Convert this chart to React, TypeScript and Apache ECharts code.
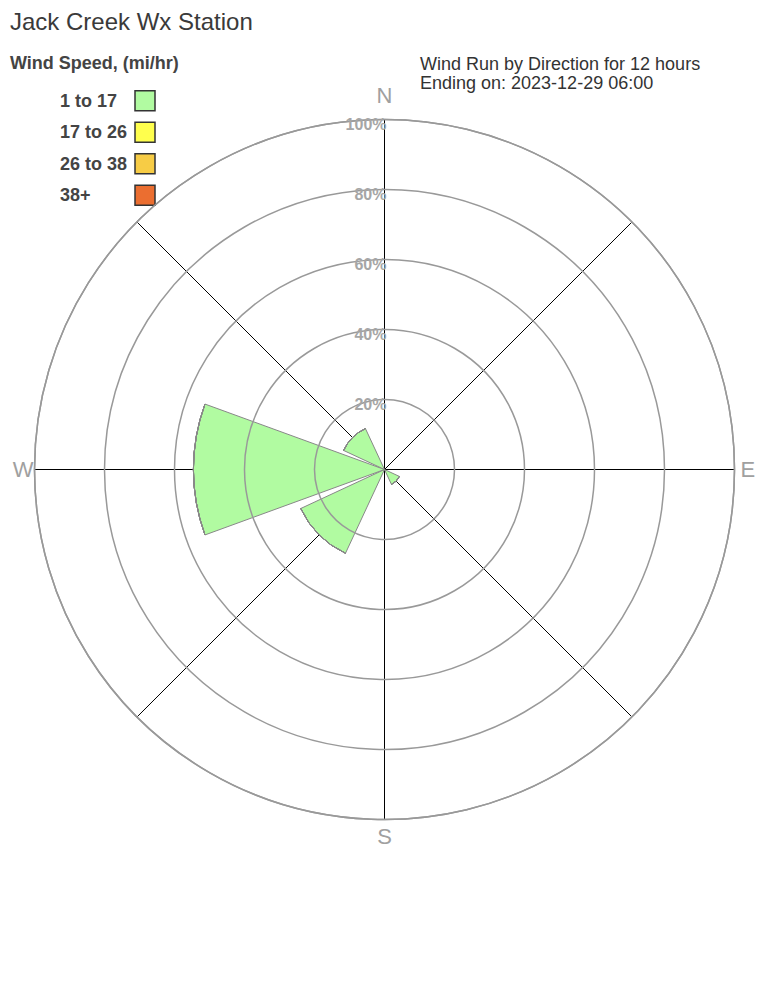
import React, { useEffect, useRef } from "react";
import * as echarts from "echarts";

const directions = ["N", "NE", "E", "SE", "S", "SW", "W", "NW"];
const speedBins = ["1 to 17", "17 to 26", "26 to 38", "38+"];
const binColors = ["#b1fba1", "#ffff4d", "#f7cc45", "#eb6e30"];
// percent of wind run per direction, per speed bin
const bin1 = [0, 0, 0, 4.7, 0, 26.4, 54.6, 12.9];
const bin2 = [0, 0, 0, 0, 0, 0, 0, 0];
const bin3 = [0, 0, 0, 0, 0, 0, 0, 0];
const bin4 = [0, 0, 0, 0, 0, 0, 0, 0];
const binValues = [bin1, bin2, bin3, bin4];
const radiusTicks = [0, 20, 40, 60, 80, 100];
const compassLabels: Record<number, string> = { 0: "n", 90: "e", 180: "s", 270: "w" };
const compassText: Record<string, string> = { n: "N", e: "E", s: "S", w: "W" };

export default function App() {
  const ref = useRef<HTMLDivElement>(null);
  useEffect(() => {
    if (!ref.current) return;
    const chart = echarts.init(ref.current, undefined, { renderer: "svg" });
    const font = "'Liberation Sans', Arial, sans-serif";
    const compassStyle = { fontSize: 22, color: "#a0a0a0", fontFamily: font };
    chart.setOption({
      animation: false,
      backgroundColor: "#ffffff",
      textStyle: { fontFamily: font },
      title: [
        {
          text: "Jack Creek Wx Station",
          left: 10,
          top: 9,
          padding: 0,
          textStyle: { fontSize: 24, fontWeight: "normal", color: "#3a3a3a", fontFamily: font },
        },
        {
          text: "Wind Speed, (mi/hr)",
          left: 10,
          top: 54,
          padding: 0,
          textStyle: { fontSize: 18, fontWeight: "bold", color: "#444", fontFamily: font },
        },
        {
          text: "Wind Run by Direction for 12 hours\nEnding on: 2023-12-29 06:00",
          left: 420,
          top: 54,
          padding: 0,
          textStyle: { fontSize: 18, fontWeight: "normal", color: "#333", lineHeight: 19, fontFamily: font },
        },
      ],
      legend: {
        orient: "vertical",
        left: 60,
        top: 90,
        padding: 0,
        align: "right",
        itemWidth: 20,
        itemHeight: 20,
        itemGap: 10,
        icon: "rect",
        data: speedBins,
        itemStyle: { borderColor: "#333", borderWidth: 1.5 },
        formatter: (name: string) => `{a|${name}}`,
        textStyle: {
          fontSize: 18,
          fontWeight: "bold",
          color: "#444",
          fontFamily: font,
          rich: {
            a: { width: 70, align: "left", fontSize: 18, fontWeight: "bold", color: "#444", fontFamily: font },
          },
        },
      },
      polar: [
        { center: [384.5, 469.5], radius: 350 },
        { center: [384.5, 469.5], radius: 350 },
      ],
      angleAxis: [
        {
          polarIndex: 0,
          type: "value",
          min: 0,
          max: 360,
          interval: 45,
          startAngle: 90,
          clockwise: true,
          axisLine: { show: true, lineStyle: { color: "#999", width: 1.5 } },
          axisTick: { show: false },
          splitLine: { show: true, lineStyle: { color: "#000", width: 1 } },
          axisLabel: {
            margin: 1,
            formatter: (v: number) => {
              const k = compassLabels[v];
              return k ? `{${k}|${compassText[k]}}` : "";
            },
            rich: {
              n: { ...compassStyle, padding: [0, 0, 12, 0] },
              e: { ...compassStyle, padding: [0, 0, 0, 5] },
              s: { ...compassStyle, padding: [5, 0, 0, 0] },
              w: { ...compassStyle, padding: [0, 0, 0, 0] },
            },
          },
        },
        {
          polarIndex: 1,
          type: "category",
          data: directions,
          startAngle: 112.5,
          clockwise: true,
          axisLine: { show: false },
          axisTick: { show: false },
          axisLabel: { show: false },
          splitLine: { show: false },
        },
      ],
      radiusAxis: [
        {
          polarIndex: 0,
          type: "value",
          min: radiusTicks[0],
          max: radiusTicks[radiusTicks.length - 1],
          interval: 20,
          axisLine: { show: false },
          axisTick: { show: false },
          splitLine: { show: true, lineStyle: { color: "#999", width: 1.5 } },
          axisLabel: {
            showMinLabel: false,
            margin: -2,
            verticalAlign: "middle",
            formatter: "{r|{value}%}",
            rich: {
              r: {
                fontSize: 16,
                fontWeight: "bold",
                color: "#a6a6a6",
                fontFamily: font,
                padding: [10, 0, 0, 0],
              },
            },
          },
          z: 5,
        },
        {
          polarIndex: 1,
          type: "value",
          min: 0,
          max: 100,
          axisLine: { show: false },
          axisTick: { show: false },
          axisLabel: { show: false },
          splitLine: { show: false },
        },
      ],
      series: speedBins.map((name, i) => ({
        name,
        type: "bar",
        coordinateSystem: "polar",
        polarIndex: 1,
        stack: "speed",
        barCategoryGap: "11%",
        data: binValues[i],
        itemStyle: { color: binColors[i], borderColor: "#888", borderWidth: 1 },
        z: 3,
      })),
    });
    return () => chart.dispose();
  }, []);
  return (
    <div
      ref={ref}
      style={{ position: "fixed", left: 0, top: 0, width: 768, height: 1008 }}
    />
  );
}
